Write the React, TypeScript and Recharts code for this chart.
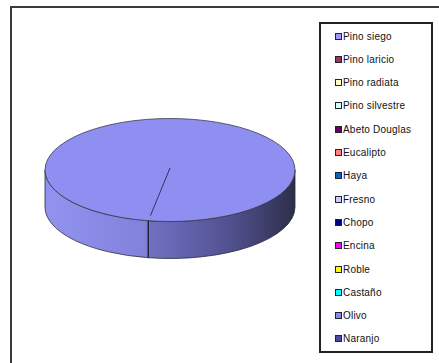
import React from "react";
import { PieChart, Pie, Cell, Legend } from "recharts";

const species = [
  "Pino siego",
  "Pino laricio",
  "Pino radiata",
  "Pino silvestre",
  "Abeto Douglas",
  "Eucalipto",
  "Haya",
  "Fresno",
  "Chopo",
  "Encina",
  "Roble",
  "Castaño",
  "Olivo",
  "Naranjo",
];
const shares = [100, 0, 0, 0, 0, 0, 0, 0, 0, 0, 0, 0, 0, 0];
const colors = [
  "#9999FF",
  "#993366",
  "#FFFFCC",
  "#CCFFFF",
  "#660066",
  "#FF8080",
  "#0066CC",
  "#CCCCFF",
  "#000080",
  "#FF00FF",
  "#FFFF00",
  "#00FFFF",
  "#8888EE",
  "#4A4A9A",
];

const data = species.map((name, i) => ({ name, value: shares[i] }));

const TILT = 0.412;
const DEPTH = 37;

const render3D = (props: any) => {
  const { cx, cy, outerRadius: r, startAngle: sa, endAngle: ea, index } = props;
  if (props.value <= 0 || r == null) return null;
  const ry = r * TILT;
  const rad = (a: number) => (a * Math.PI) / 180;
  const P = (a: number, dy = 0) => [cx + r * Math.cos(rad(a)), cy - ry * Math.sin(rad(a)) + dy];
  const lo = Math.min(sa, ea);
  const hi = Math.max(sa, ea);
  const full = hi - lo >= 359.99;
  const sides: React.ReactNode[] = [];
  for (let k = -2; k <= 2; k++) {
    const a = Math.max(lo, 180 + 360 * k);
    const b = Math.min(hi, 360 + 360 * k);
    if (b > a) {
      const pa = P(a);
      const pb = P(b);
      const pbd = P(b, DEPTH);
      const pad = P(a, DEPTH);
      const d = `M${pa[0]},${pa[1]} A${r},${ry} 0 0 0 ${pb[0]},${pb[1]} L${pbd[0]},${pbd[1]} A${r},${ry} 0 0 1 ${pad[0]},${pad[1]} Z`;
      sides.push(
        <path key={k} d={d} fill={`url(#side-${index})`} stroke="#2a2a3a" strokeWidth={0.8} />
      );
    }
  }
  const ps = P(sa);
  const pe = P(ea);
  const large = hi - lo > 180 ? 1 : 0;
  const topPath = full
    ? null
    : `M${cx},${cy} L${ps[0]},${ps[1]} A${r},${ry} 0 ${large} ${sa > ea ? 1 : 0} ${pe[0]},${pe[1]} Z`;
  const showEdge = Math.sin(rad(sa)) < 0;
  return (
    <g key={`s3d-${index}`}>
      <defs>
        <linearGradient id={`side-${index}`} gradientUnits="userSpaceOnUse" x1={cx - r} y1={0} x2={cx + r} y2={0}>
          <stop offset="0" stopColor="#9292F0" />
          <stop offset="0.4" stopColor="#8282DC" />
          <stop offset="0.42" stopColor="#7070C2" />
          <stop offset="0.75" stopColor="#50508E" />
          <stop offset="1" stopColor="#2E2E4A" />
        </linearGradient>
      </defs>
      {sides}
      {full ? (
        <ellipse cx={cx} cy={cy} rx={r} ry={ry} fill="#8F8FF2" stroke="#3a3a4a" strokeWidth={0.8} />
      ) : (
        <path d={topPath as string} fill="#8F8FF2" stroke="#3a3a4a" strokeWidth={0.8} />
      )}
      <line x1={cx} y1={cy - 2} x2={ps[0] + (cx - ps[0]) * 0.1} y2={ps[1] - (ps[1] - cy) * 0.1} stroke="#33335a" strokeWidth={1} />
      {showEdge && (
        <line x1={ps[0]} y1={ps[1]} x2={ps[0]} y2={ps[1] + DEPTH} stroke="#202035" strokeWidth={1.2} />
      )}
    </g>
  );
};

const LegendContent = () => {
  return (
    <div style={{ position: "relative", width: "100%", height: "100%" }}>
      {species.map((name, i) => (
        <div
          key={name}
          style={{
            position: "absolute",
            left: 14,
            top: 12 + 23.3 * i - 7,
            height: 14,
            display: "flex",
            alignItems: "center",
            whiteSpace: "nowrap",
          }}
        >
          <span
            style={{
              display: "inline-block",
              width: 5,
              height: 5,
              background: colors[i],
              border: "1px solid #222",
              marginRight: 1,
            }}
          />
          <span
            style={{
              fontFamily: "'Liberation Sans', Arial, sans-serif",
              fontSize: 10,
              color: "#111",
              letterSpacing: 0.2,
            }}
          >
            {name}
          </span>
        </div>
      ))}
    </div>
  );
};

export default function App() {
  return (
    <div
      style={{
        position: "absolute",
        left: 0,
        top: 0,
        width: 439,
        height: 363,
        overflow: "hidden",
        background: "#fff",
      }}
    >
      <div
        style={{
          position: "absolute",
          left: 10,
          top: 6,
          width: 480,
          height: 420,
          border: "2px solid #3a3a3a",
        }}
      />
      <div style={{ position: "absolute", left: 0, top: 0 }}>
        <PieChart width={439} height={363} margin={{ top: 0, right: 0, bottom: 0, left: 0 }}>
          <Pie
            data={data}
            dataKey="value"
            nameKey="name"
            cx={170}
            cy={170}
            outerRadius={125}
            startAngle={260}
            endAngle={-100}
            isAnimationActive={false}
            label={render3D}
            labelLine={false}
            stroke="none"
          >
            {data.map((d, i) => (
              <Cell key={d.name} fill={colors[i]} fillOpacity={0} stroke="none" />
            ))}
          </Pie>
          <Legend
            content={LegendContent}
            wrapperStyle={{
              position: "absolute",
              left: 319,
              top: 22,
              width: 114,
              height: 331,
              border: "2px solid #222",
              boxSizing: "border-box",
              background: "#fff",
            }}
          />
        </PieChart>
      </div>
    </div>
  );
}
